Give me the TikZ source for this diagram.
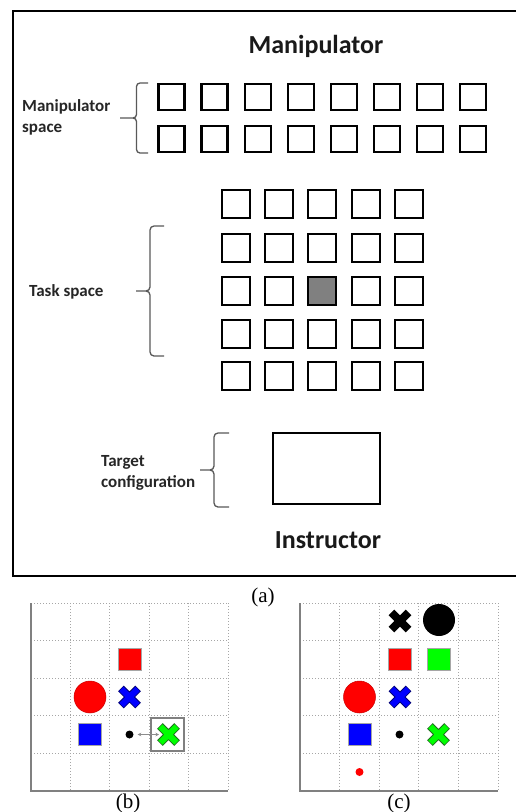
\documentclass[tikz,border=0pt]{standalone}
\usepackage{fontspec}
\setmainfont{Liberation Serif}
\newfontfamily\calibri{Carlito}
\usetikzlibrary{arrows.meta}
\definecolor{lime}{RGB}{0,255,0}
\definecolor{darkgreen}{RGB}{30,110,30}
\definecolor{navyx}{RGB}{0,0,120}
\tikzset{
  msq/.style={draw=black, line width=2.4pt, minimum size=26pt, inner sep=0pt, fill=white},
  tsq/.style={msq, minimum size=27.6pt},
  cell33/.style={fill=black!50},
  titletext/.style={font=\calibri\bfseries\fontsize{26}{30}\selectfont, text=black!90, inner sep=0pt},
  lab/.style={font=\calibri\bfseries\fontsize{17}{21}\selectfont, text=black!85, align=left, inner sep=0pt},
  captext/.style={font=\fontsize{21}{24}\selectfont, inner sep=0pt},
  bracep/.style={draw=black!65, line width=1.3pt},
  gridl/.style={draw=black!35, dotted, line width=1pt},
  axisl/.style={draw=black!50, line width=1.2pt},
  objsq/.style={draw=black!35, line width=0.6pt, minimum width=23pt, minimum height=22pt, inner sep=0pt},
  bigdot/.style={circle, inner sep=0pt, minimum size=32pt},
  smalldot/.style={circle, inner sep=0pt, minimum size=8pt},
  pics/xmark/.style n args={2}{code={
    \draw[line width=8pt, #2] (-8.6,-8.6) -- (8.6,8.6) (-8.6,8.6) -- (8.6,-8.6);
    \draw[line width=6pt, #1] (-8.1,-8.1) -- (8.1,8.1) (-8.1,8.1) -- (8.1,-8.1);
  }},
}
\begin{document}
\begin{tikzpicture}[x=1pt, y=-1pt]
\useasboundingbox[fill=white] (0,0) rectangle (515,812);
% outer frame (open on the right)
\draw[line width=2.2pt] (520,11) -- (13,11) -- (13,576) -- (520,576);

% titles
\node[titletext, anchor=base] (mtitle) at (316,53) {Manipulator};
\node[titletext, anchor=base] (ititle) at (328,548) {Instructor};

% manipulator space
\foreach \i in {0,...,7} {
  \node[msq] (ma\i) at ({171.5+43.1*\i},97) {};
  \node[msq] (mb\i) at ({171.5+43.1*\i},139) {};
}
\node[lab, anchor=west] (mlab) at (22,117) {Manipulator\\space};
\draw[bracep] (148,83) -- (140,83) to[out=180,in=90] (136.5,86.5) -- (136.5,114.5)
  to[out=-90,in=0] (133,118) -- (120,118);
\draw[bracep] (148,153) -- (140,153) to[out=180,in=-90] (136.5,149.5) -- (136.5,121.5)
  to[out=90,in=0] (133,118);

% task space
\foreach \c [count=\ci] in {236,279,322,366,409} {
  \foreach \r [count=\ri] in {204,248,291,334,376} {
    \node[tsq, cell\ci\ri/.try] (t\ci\ri) at (\c,\r) {};
  }
}
\node[lab, anchor=west] (tlab) at (29,292) {Task space};
\draw[bracep] (164,226) -- (154,226) to[out=180,in=90] (150,230) -- (150,287)
  to[out=-90,in=0] (146,291) -- (136,291);
\draw[bracep] (164,356) -- (154,356) to[out=180,in=-90] (150,352) -- (150,295)
  to[out=90,in=0] (146,291);

% target configuration
\node[draw=black, line width=2.4pt, minimum width=107pt, minimum height=71pt, inner sep=0pt] (target) at (326.5,468.5) {};
\node[lab, anchor=west] (glab) at (101,473) {Target\\configuration};
\draw[bracep] (229,433) -- (218,433) to[out=180,in=90] (214,437) -- (214,466)
  to[out=-90,in=0] (210,470) -- (200,470);
\draw[bracep] (229,507) -- (218,507) to[out=180,in=-90] (214,503) -- (214,474)
  to[out=90,in=0] (210,470);

\node[captext] (capa) at (263,597) {(a)};

% panel (b)
\begin{scope}[shift={(31,603)}]
  \foreach \i in {1,...,5} \draw[gridl] ({39.4*\i},0) -- ({39.4*\i},188);
  \foreach \j in {0,...,4} \draw[gridl] (0,{37.6*\j}) -- (197,{37.6*\j});
  \draw[axisl] (0,0) -- (0,188) -- (197,188);
\end{scope}
\node[objsq, fill=red] (bredsq) at (129.5,659) {};
\node[bigdot, fill=red, draw=red!80!black, line width=0.5pt] (bredc) at (90,697) {};
\pic at (129.5,697) {xmark={blue}{navyx}};
\node[objsq, fill=blue] (bbluesq) at (90,734.5) {};
\node[smalldot, fill=black] (bdot) at (129.5,734.5) {};
\node[draw=black!50, line width=2pt, minimum width=33pt, minimum height=33pt, inner sep=0pt] (gbox) at (167.5,734.5) {};
\pic at (168.5,734.5) {xmark={lime}{darkgreen}};
\coordinate (atip) at (159,734.5);
\draw[draw=black!45, line width=0.8pt, {Stealth[length=3.5pt,width=3.5pt]}-{Stealth[length=3.5pt,width=3.5pt]}] ([xshift=4pt]bdot.east) -- (atip);
\node[captext] (capb) at (128,803) {(b)};

% panel (c)
\begin{scope}[shift={(300,603)}]
  \foreach \i in {1,...,5} \draw[gridl] ({39.6*\i},0) -- ({39.6*\i},188);
  \foreach \j in {0,...,4} \draw[gridl] (0,{37.6*\j}) -- (198,{37.6*\j});
  \draw[axisl] (0,0) -- (0,188) -- (198,188);
\end{scope}
\pic at (400,621) {xmark={black}{black}};
\node[bigdot, fill=black] (cblkc) at (439,620) {};
\node[objsq, fill=red] (credsq) at (400,659) {};
\node[objsq, fill=lime] (cgrnsq) at (439,659) {};
\node[bigdot, fill=red, draw=red!80!black, line width=0.5pt] (credc) at (359.5,697) {};
\pic at (400,697) {xmark={blue}{navyx}};
\node[objsq, fill=blue] (cbluesq) at (360,734.5) {};
\node[smalldot, fill=black] (cdot) at (399.5,734.5) {};
\pic at (438.5,734.5) {xmark={lime}{darkgreen}};
\node[smalldot, fill=red] (creddot) at (359.5,772) {};
\node[captext] (capc) at (399,803) {(c)};
\end{tikzpicture}
\end{document}
